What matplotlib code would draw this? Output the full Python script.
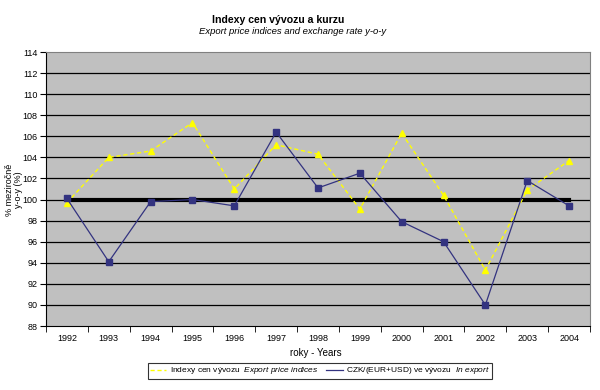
import numpy as np
import matplotlib.pyplot as plt

plt.rcParams['font.family'] = ['Liberation Sans', 'DejaVu Sans']
plt.rcParams['mathtext.fontset'] = 'custom'
plt.rcParams['mathtext.rm'] = 'Liberation Sans'
plt.rcParams['mathtext.it'] = 'Liberation Sans:italic'

years = ['1992', '1993', '1994', '1995', '1996', '1997', '1998',
         '1999', '2000', '2001', '2002', '2003', '2004']
export_idx = [99.7, 104.0, 104.6, 107.3, 101.0, 105.2, 104.3,
              99.1, 106.3, 100.4, 93.3, 100.9, 103.7]
czk_idx = [100.1, 94.1, 99.8, 100.0, 99.4, 106.4, 101.1,
           102.5, 97.9, 96.0, 90.0, 101.8, 99.4]
base = [100] * len(years)

x = np.arange(len(years))

fig = plt.figure(figsize=(6, 3.9), dpi=100)
ax = fig.add_axes([46/600, 64/390, 544/600, 274/390])
ax.set_facecolor('#C0C0C0')

for yv in range(90, 114, 2):
    ax.axhline(yv, color='black', lw=0.9, zorder=1)

ax.plot(x, base, color='black', lw=3, zorder=2)
l1, = ax.plot(x, export_idx, color='#FFFF00', lw=1, ls=(0, (3, 2)),
              marker='^', ms=5, mfc='#FFFF00', mec='#FFFF00', zorder=3,
              label=r'Indexy cen vývozu  $\mathit{Export\ price\ indices}$')
l2, = ax.plot(x, czk_idx, color='#333380', lw=0.9,
              marker='s', ms=4.5, mfc='#333380', mec='#333380', zorder=4,
              label=r'CZK/(EUR+USD) ve vývozu  $\mathit{In\ export}$')

ax.set_xlim(-0.5, len(years) - 0.5)
ax.set_ylim(88, 114)
ax.set_yticks(range(88, 115, 2))
ax.set_xticks(x)
ax.set_xticklabels(years)
ax.set_xticks(np.arange(-0.5, len(years)), minor=True)
ax.tick_params(axis='x', which='major', length=0, labelsize=6.5, pad=6)
ax.tick_params(axis='x', which='minor', length=4, direction='out')
ax.tick_params(axis='y', length=4, direction='out', labelsize=6.5, pad=2)

for s in ['top', 'right']:
    ax.spines[s].set_color('#808080')
for s in ['left', 'bottom']:
    ax.spines[s].set_color('black')

fig.text(316/600, 1 - 353/390, 'roky - Years', ha='center', va='center',
         fontsize=7)
fig.text(14/600, 1 - 190/390, '% meziročně\ny-o-y (%)', rotation=90,
         ha='center', va='center', fontsize=6.5, linespacing=1.0)

fig.text(278/600, 1 - 20/390, 'Indexy cen vývozu a kurzu', ha='center',
         va='center', fontsize=7.6, fontweight='bold')
fig.text(293/600, 1 - 32/390, 'Export price indices and exchange rate y-o-y',
         ha='center', va='center', fontsize=6.8, style='italic')

leg = fig.legend(handles=[l1, l2], loc='center', ncol=2,
                 bbox_to_anchor=(320/600, 1 - 371/390), fontsize=6,
                 frameon=True, fancybox=False, edgecolor='black',
                 handlelength=2.0, handletextpad=0.4, columnspacing=1.0,
                 borderpad=0.25)
for h in leg.legend_handles:
    h.set_marker('')
leg.get_frame().set_linewidth(0.8)

fig.savefig('out.png', dpi=100)
